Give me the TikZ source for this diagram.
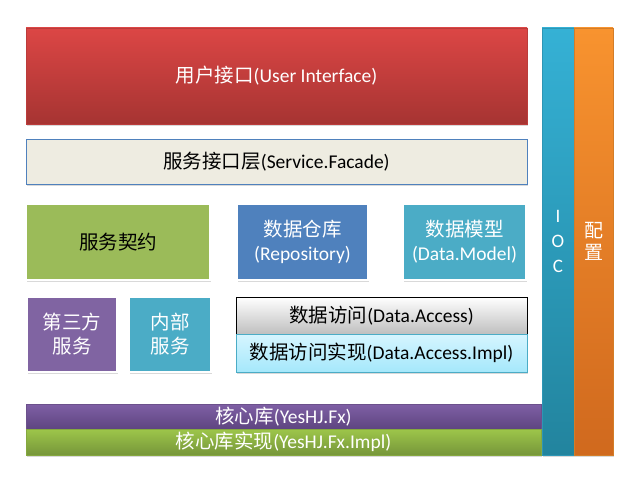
\documentclass[tikz,border=0pt]{standalone}
\usepackage{fontspec}
\setmainfont{Carlito}
\newfontfamily\cjk{Noto Sans CJK SC}
\newcommand{\zh}[1]{{\cjk #1}}
\usetikzlibrary{shadows}
\definecolor{uitop}{HTML}{DC4645}
\definecolor{uibot}{HTML}{A63432}
\definecolor{facadebg}{HTML}{EEECE1}
\definecolor{officeblue}{HTML}{4F81BD}
\definecolor{officegreen}{HTML}{9BBB59}
\definecolor{officeaqua}{HTML}{4BACC6}
\definecolor{officepurple}{HTML}{8064A2}
\definecolor{accessbot}{HTML}{BFBFBF}
\definecolor{impltop}{HTML}{D6F5FF}
\definecolor{implbot}{HTML}{A5E8FB}
\definecolor{coretop}{HTML}{7F5FA5}
\definecolor{corebot}{HTML}{5E4580}
\definecolor{impltopg}{HTML}{9DC64A}
\definecolor{implbotg}{HTML}{76963A}
\definecolor{ioctop}{HTML}{35B1D5}
\definecolor{iocbot}{HTML}{22849E}
\definecolor{cfgtop}{HTML}{F8932F}
\definecolor{cfgbot}{HTML}{D0691E}

\begin{document}
\begin{tikzpicture}[
  x=1pt, y=-1pt,
  font=\fontsize{19.5}{24}\selectfont,
  layerbox/.style={
    rectangle,
    anchor=north west,
    inner sep=0pt,
    outer sep=0pt,
    align=center
  },
  sized/.style 2 args={minimum width=#1pt, minimum height=#2pt},
  softshadow/.style={drop shadow={shadow xshift=1pt, shadow yshift=-1.5pt, opacity=.3}},
  tilebox/.style={layerbox, draw=white, line width=2.5pt, softshadow},
  barbox/.style={layerbox, draw=#1!85!black, line width=0.4pt, softshadow}
]
  \useasboundingbox (0,0) rectangle (628,476);

  % --- Upper layers ---
  \node[barbox=uitop, sized={501}{96}, top color=uitop, bottom color=uibot, text=white]
       (ui) at (26,28) {\zh{用户接口}(User Interface)};
  \node[layerbox, sized={501}{45}, fill=facadebg, draw=officeblue, line width=1pt, softshadow]
       (facade) at (26,139) {\zh{服务接口层}(Service.Facade)};

  % --- Middle tiles ---
  \node[tilebox, sized={184}{76}, fill=officegreen] (contract) at (26,204) {\zh{服务契约}};
  \node[tilebox, sized={131}{76}, fill=officeblue, text=white] (repo) at (237,204)
       {\zh{数据仓库}\\(Repository)};
  \node[tilebox, sized={123}{76}, fill=officeaqua, text=white] (model) at (403,204)
       {\zh{数据模型}\\(Data.Model)};
  \node[tilebox, sized={90}{75}, fill=officepurple, text=white] (third) at (27,297)
       {\zh{第三方}\\\zh{服务}};
  \node[tilebox, sized={82}{75}, fill=officeaqua, text=white] (inner) at (129,297)
       {\zh{内部}\\\zh{服务}};

  % --- Data access stack ---
  \node[layerbox, sized={291}{37}, top color=white, bottom color=accessbot, draw=black, line width=0.8pt]
       (access) at (236,297) {\zh{数据访问}(Data.Access)};
  \node[layerbox, sized={291}{38}, top color=impltop, bottom color=implbot, draw=officeaqua, line width=0.8pt, softshadow]
       (impl) at (236,334) {\zh{数据访问实现}(Data.Access.Impl)};

  % --- Core bars ---
  \node[barbox=coretop, sized={515}{25}, top color=coretop, bottom color=corebot, text=white]
       (core) at (26,404) {\zh{核心库}(YesHJ.Fx)};
  \node[barbox=impltopg, sized={515}{26}, top color=impltopg, bottom color=implbotg, text=white]
       (coreimpl) at (26,429) {\zh{核心库实现}(YesHJ.Fx.Impl)};

  % --- Side columns ---
  \node[barbox=ioctop, sized={32}{427}, top color=ioctop, bottom color=iocbot, text=white,
        font=\fontsize{19}{25}\selectfont]
       (ioc) at (542,28) {I\\O\\C};
  \node[barbox=cfgtop, sized={39}{427}, top color=cfgtop, bottom color=cfgbot, text=white,
        font=\fontsize{19}{22}\selectfont]
       (config) at (574,28) {\zh{配}\\\zh{置}};

\end{tikzpicture}
\end{document}
